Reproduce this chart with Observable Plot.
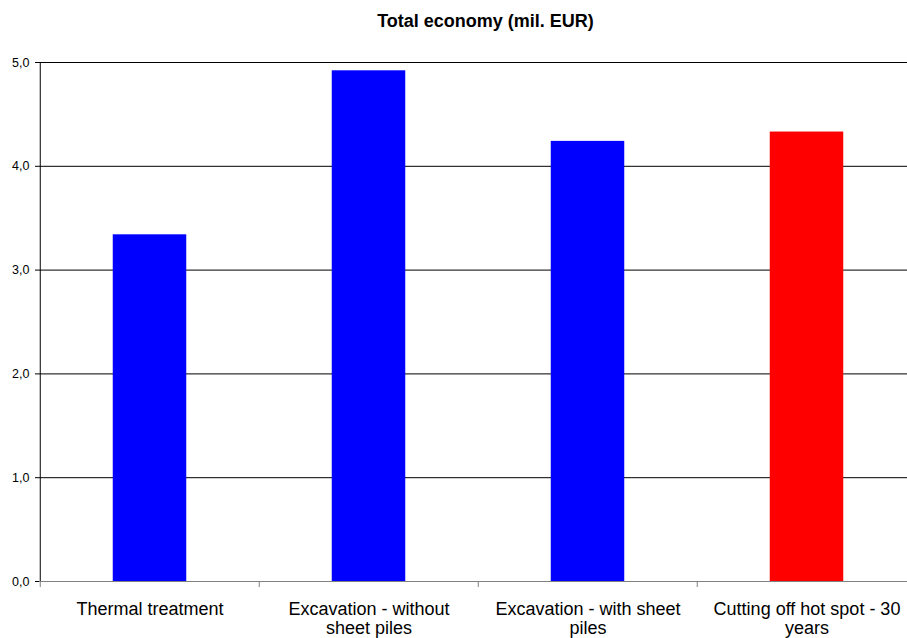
<!DOCTYPE html>
<html>
<head>
<meta charset="utf-8">
<script src="https://cdn.jsdelivr.net/npm/d3@7"></script>
<script src="https://cdn.jsdelivr.net/npm/@observablehq/plot@0.6"></script>
<style>
  html, body { margin: 0; padding: 0; background: #fff; overflow: hidden; width: 907px; height: 638px; }
  #title { position: absolute; left: 0; top: 1px; width: 971px; height: 40px; line-height: 40px; text-align: center;
           font-family: "Liberation Sans", Arial, sans-serif; font-weight: bold; font-size: 18px; color: #000; }
  #chart { position: absolute; left: 0; top: 40px; width: 917px; }
  #chart svg { overflow: visible; max-width: none !important; }
</style>
</head>
<body>
<div id="title">Total economy (mil. EUR)</div>
<div id="chart"></div>
<script>
const categories = ["Thermal treatment", "Excavation - without sheet piles", "Excavation - with sheet piles", "Cutting off hot spot - 30 years"];
const tickLabels = ["Thermal treatment", "Excavation - without\nsheet piles", "Excavation - with sheet\npiles", "Cutting off hot spot - 30\nyears"];
const values = [3.34, 4.92, 4.24, 4.33];
const colors = ["#0000ff", "#0000ff", "#0000ff", "#ff0000"];
const yTicks = [0, 1, 2, 3, 4, 5];

const data = categories.map((c, i) => ({cat: c, value: values[i], color: colors[i]}));
const fmt = d => d.toFixed(1).replace(".", ",");

const W = 917, bw = (W - 39) / categories.length;

const chart = Plot.plot({
  width: W,
  height: 598,
  marginLeft: 39,
  marginRight: 0,
  marginTop: 22,
  marginBottom: 57,
  style: {fontFamily: '"Liberation Sans", Arial, sans-serif', background: "white", color: "#000", maxWidth: "none"},
  x: {domain: categories, padding: 0, axis: null, label: null},
  y: {domain: [0, 5], axis: null, label: null},
  marks: [
    Plot.gridY(yTicks.filter(d => d > 0), {stroke: "#000", strokeOpacity: 1}),
    Plot.barY(data, {x: "cat", y: "value", fill: "color", insetLeft: (bw - 74) / 2, insetRight: (bw - 74) / 2}),
    Plot.ruleY([0], {stroke: "#808080"}),
    Plot.axisX(categories, {tickSize: 6, text: null, label: null, dx: -bw / 2, stroke: "#808080"}),
    Plot.ruleX([categories[0]], {y1: 0, y2: 5, dx: -bw / 2, stroke: "#000"}),
    Plot.axisY(yTicks, {tickSize: 4, tickPadding: 6, tickFormat: fmt, label: null, fontSize: 12.5, stroke: "#000"}),
    Plot.text(categories, {x: d => d, text: (d, i) => tickLabels[i], frameAnchor: "bottom", lineAnchor: "top", dy: 20, fontSize: 18, lineHeight: 1.05, fill: "#000"})
  ]
});
document.getElementById("chart").appendChild(chart);
</script>
</body>
</html>
